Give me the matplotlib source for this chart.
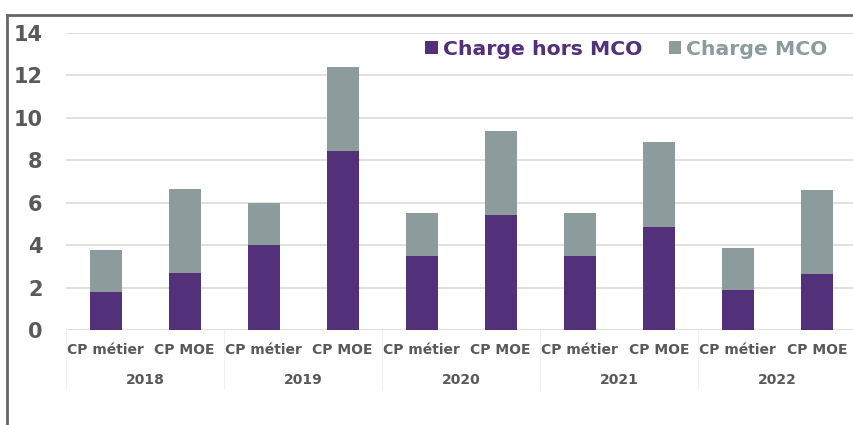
import matplotlib.pyplot as plt
import numpy as np
from matplotlib.lines import Line2D

years = ['2018', '2019', '2020', '2021', '2022']
roles = ['CP métier', 'CP MOE']
hors_mco = [1.8, 2.7, 4.0, 8.45, 3.5, 5.4, 3.5, 4.85, 1.9, 2.65]
total = [3.75, 6.65, 6.0, 12.4, 5.5, 9.4, 5.5, 8.85, 3.87, 6.6]
mco = [t - h for t, h in zip(total, hors_mco)]

purple = '#52307a'
grey = '#8c9c9c'
txt = '#595959'

fig = plt.figure(figsize=(8.54, 4.25), dpi=100)
ax = fig.add_axes([66 / 854, 95 / 425, 788 / 854, 297 / 425])

x = np.arange(len(hors_mco))
ax.bar(x, hors_mco, width=0.405, color=purple, label='Charge hors MCO', zorder=3)
ax.bar(x, mco, width=0.405, bottom=hors_mco, color=grey, label='Charge MCO', zorder=3)

ax.set_xlim(-0.5, 9.47)
ax.set_ylim(0, 14)
ax.set_yticks(range(0, 15, 2))
ax.yaxis.grid(True, color='#dcdcd4', lw=1.2, zorder=0)
for s in ax.spines.values():
    s.set_visible(False)
ax.tick_params(axis='y', length=0, pad=17, labelsize=15, labelcolor=txt)
for lab in ax.get_yticklabels():
    lab.set_fontweight('bold')

ax.set_xticks(x)
ax.set_xticklabels(roles * len(years), fontsize=10, fontweight='bold', color=txt)
ax.tick_params(axis='x', length=0, pad=9)

for i, y in enumerate(years):
    ax.text(2 * i + 0.5, -0.17, y, transform=ax.get_xaxis_transform(),
            ha='center', va='center', fontsize=10, fontweight='bold', color=txt)
for i in range(len(years) + 1):
    ax.plot([2 * i - 0.5] * 2, [0, -0.2], transform=ax.get_xaxis_transform(),
            color='#f0f0f0', lw=0.8, clip_on=False)

leg = ax.legend(loc='center', bbox_to_anchor=(0.711, 0.944), ncol=2, frameon=False,
                prop={'weight': 'bold', 'size': 14.7}, labelcolor=[purple, grey],
                handlelength=0.6, handleheight=0.6, handletextpad=0.25,
                columnspacing=1.3)

fig.add_artist(Line2D([7 / 854, 7 / 854], [0, 1 - 15 / 425], color='#666666', lw=2))
fig.add_artist(Line2D([7 / 854, 1], [1 - 15 / 425] * 2, color='#666666', lw=2))

fig.savefig('out.png', dpi=100)
